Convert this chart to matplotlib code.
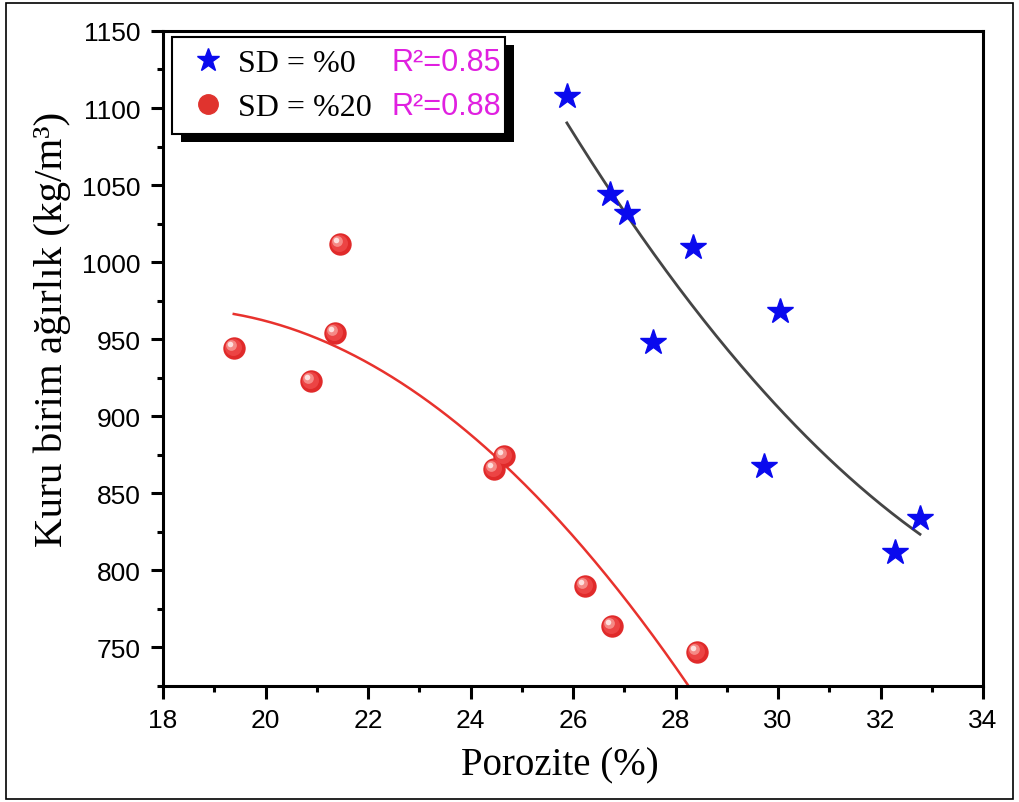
import matplotlib
matplotlib.use("Agg")
import matplotlib.pyplot as plt
from matplotlib.patches import Rectangle
from matplotlib.ticker import MultipleLocator
from matplotlib.lines import Line2D
from matplotlib.transforms import offset_copy
import numpy as np

# SD = %0 (stars)
por_sd0 = [25.88, 26.72, 27.05, 28.34, 30.04, 27.56, 29.73, 32.28, 32.77]
dens_sd0 = [1108, 1044, 1032, 1010, 968, 948, 868, 812, 834]

# SD = %20 (spheres)
por_sd20 = [19.38, 20.89, 21.36, 21.45, 24.46, 24.65, 26.23, 26.76, 28.42]
dens_sd20 = [944, 923, 954, 1012, 866, 874, 790, 764, 747]

labels = ["SD = %0", "SD = %20"]
r2_texts = ["R\u00b2=0.85", "R\u00b2=0.88"]

serif = "Liberation Serif"
sans = "Liberation Sans"

fig = plt.figure(figsize=(10.19, 8.03), dpi=100)
ax = fig.add_axes([0.16, 0.1445, 0.8047, 0.8157])

# quadratic fits
x0 = np.array(por_sd0)
x1 = np.array(por_sd20)
p0 = np.polyfit(x0, dens_sd0, 2)
p1 = np.polyfit(x1, dens_sd20, 2)
xx0 = np.linspace(x0.min(), x0.max(), 200)
xx1 = np.linspace(x1.min(), x1.max(), 200)
ax.plot(xx0, np.polyval(p0, xx0), color="#454545", lw=2.0, zorder=2)
ax.plot(xx1, np.polyval(p1, xx1), color="#e8322d", lw=1.8, zorder=2)

ax.plot(por_sd0, dens_sd0, linestyle="none", marker="*", markersize=19,
        color="#0a0aee", markeredgecolor="#0a0aee", zorder=3)

# shaded spheres (highlight shifted up-left)
ax.scatter(por_sd20, dens_sd20, s=260, color="#e02a2a", linewidth=0, zorder=3)
ax.scatter(por_sd20, dens_sd20, s=150, color="#ec4444", linewidth=0, zorder=3,
           transform=offset_copy(ax.transData, fig, x=-1, y=1, units="dots"))
ax.scatter(por_sd20, dens_sd20, s=60, color="#f58a86", linewidth=0, zorder=3,
           transform=offset_copy(ax.transData, fig, x=-3, y=3, units="dots"))
ax.scatter(por_sd20, dens_sd20, s=16, color="#fde0de", linewidth=0, zorder=3,
           transform=offset_copy(ax.transData, fig, x=-4, y=4, units="dots"))

ax.set_xlim(18, 34)
ax.set_ylim(725, 1150)
ax.xaxis.set_major_locator(MultipleLocator(2))
ax.xaxis.set_minor_locator(MultipleLocator(1))
ax.yaxis.set_major_locator(MultipleLocator(50))
ax.yaxis.set_minor_locator(MultipleLocator(25))

for s in ax.spines.values():
    s.set_linewidth(2.2)
ax.tick_params(which="major", direction="out", length=9, width=2.2,
               labelsize=19, pad=7)
ax.tick_params(which="minor", direction="out", length=4.5, width=2.2)
for lab in ax.get_xticklabels() + ax.get_yticklabels():
    lab.set_fontfamily(sans)

ax.set_xlabel("Porozite (%)", fontsize=28, family=serif)
ax.set_ylabel("Kuru birim a\u011f\u0131rl\u0131k (kg/m\u00b3)", fontsize=29.5, family=serif)
ax.xaxis.set_label_coords(0.484, -0.093)
ax.yaxis.set_label_coords(-0.112, 0.546)

handles = [
    Line2D([], [], linestyle="none", marker="*", markersize=17, color="#0a0aee"),
    Line2D([], [], linestyle="none", marker="o", markersize=14,
           markerfacecolor="#e0332e", markeredgecolor="#e0332e"),
]
leg = ax.legend(handles, labels, loc="upper left", mode="expand",
                bbox_to_anchor=(0.011, 0.853, 0.406, 0.138), borderaxespad=0,
                prop={"family": serif, "size": 23}, fancybox=False,
                edgecolor="black", framealpha=1, handletextpad=0.2,
                handlelength=1.5, labelspacing=0.47, borderpad=0.36)
leg.get_frame().set_linewidth(1.5)

for i, t in enumerate(r2_texts):
    ax.text(0.279, [0.952, 0.886][i], t, transform=ax.transAxes, fontsize=22,
            family=sans, color="#e020e0", va="center", ha="left", zorder=10)

fig.canvas.draw()
bb = leg.get_frame().get_window_extent()
inv = ax.transAxes.inverted()
(ax0, ay0), (ax1, ay1) = inv.transform([[bb.x0 + 9, bb.y0 - 8], [bb.x1 + 9, bb.y1 - 8]])
ax.add_patch(Rectangle((ax0, ay0), ax1 - ax0, ay1 - ay0, transform=ax.transAxes,
                       facecolor="black", edgecolor="none", clip_on=False, zorder=4.9))

fig.add_artist(Rectangle((0.006, 0.004), 0.988, 0.991, transform=fig.transFigure,
                         fill=False, edgecolor="black", linewidth=1.2))

fig.savefig("out.png", dpi=100)
